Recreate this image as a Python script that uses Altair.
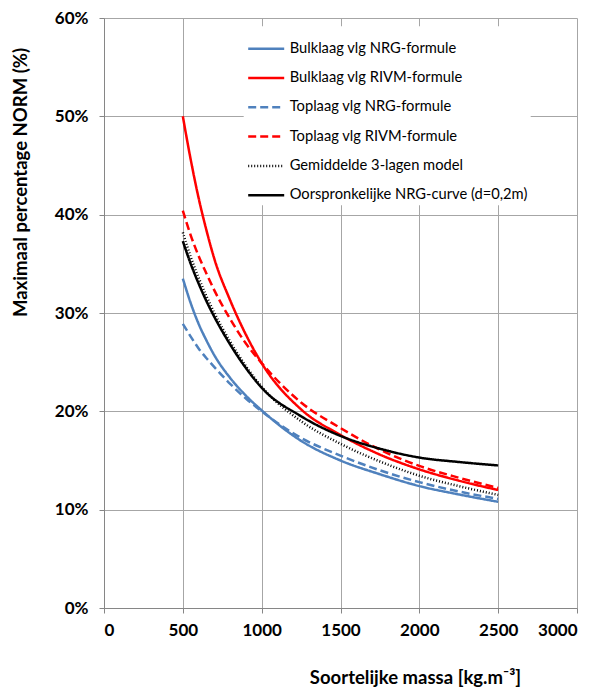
import altair as alt
import pandas as pd

# Soortelijke massa (kg/m3)
massa = [500, 550, 600, 650, 700, 800, 900, 1000, 1250, 1500, 1750, 2000, 2250, 2500]

# Maximaal percentage NORM (%)
bulk_nrg  = [33.5, 31.0, 28.9, 27.2, 25.7, 23.4, 21.6, 20.1, 17.0, 15.0, 13.6, 12.4, 11.55, 10.8]
bulk_rivm = [50.0, 45.6, 41.7, 38.4, 35.5, 31.3, 27.8, 24.9, 20.2, 17.6, 15.6, 14.1, 12.95, 12.0]
top_nrg   = [28.9, 27.6, 26.4, 25.4, 24.5, 22.8, 21.3, 20.0, 17.3, 15.5, 14.0, 12.8, 11.85, 11.1]
top_rivm  = [40.4, 37.9, 35.8, 34.0, 32.3, 29.4, 26.9, 24.9, 20.9, 18.3, 16.1, 14.45, 13.25, 12.2]
gemiddeld = [38.2, 35.7, 33.6, 31.7, 30.0, 27.1, 24.6, 22.5, 19.0, 16.7, 14.9, 13.45, 12.4, 11.5]
nrg_curve = [37.3, 35.0, 33.0, 31.2, 29.6, 26.8, 24.4, 22.4, 19.5, 17.5, 16.2, 15.3, 14.85, 14.5]

series_names = [
    "Bulklaag vlg NRG-formule",
    "Bulklaag vlg RIVM-formule",
    "Toplaag vlg NRG-formule",
    "Toplaag vlg RIVM-formule",
    "Gemiddelde 3-lagen model",
    "Oorspronkelijke NRG-curve (d=0,2m)",
]
series_values = [bulk_nrg, bulk_rivm, top_nrg, top_rivm, gemiddeld, nrg_curve]
series_colors = ["#4F81BD", "#FF0000", "#4F81BD", "#FF0000", "#000000", "#000000"]
series_dashes = [[1, 0], [1, 0], [8, 4], [8, 4], [1, 2], [1, 0]]
series_widths = [2.5, 2.5, 2.5, 2.5, 1.2, 2.5]

x_ticks = [0, 500, 1000, 1500, 2000, 2500, 3000]
y_ticks = [0, 10, 20, 30, 40, 50, 60]

rows = []
for name, vals in zip(series_names, series_values):
    for m, v in zip(massa, vals):
        rows.append({"massa": m, "pct": v, "serie": name})
df = pd.DataFrame(rows)

FONT = "Lato"

legend = alt.Legend(
    title=None,
    orient="none",
    legendX=139.7,
    legendY=8.2,
    padding=3,
    fillColor="white",
    symbolType="stroke",
    symbolSize=1296,
    labelFont=FONT,
    labelFontSize=14.7,
    labelColor="black",
    labelOffset=4,
    labelLimit=0,
    rowPadding=2.3,
)

chart = (
    alt.Chart(df)
    .mark_line(clip=True, interpolate="monotone")
    .encode(
        x=alt.X(
            "massa:Q",
            scale=alt.Scale(domain=[0, 3000], nice=False),
            axis=alt.Axis(
                values=x_ticks,
                format="d",
                title="Soortelijke massa [kg.m\u207b\u00b3]",
                titleX=311,
                titleY=69,
                titleBaseline="middle",
                labelPadding=9,
            ),
        ),
        y=alt.Y(
            "pct:Q",
            scale=alt.Scale(domain=[0, 60], nice=False),
            axis=alt.Axis(
                values=y_ticks,
                labelExpr="datum.value + '%'",
                title="Maximaal percentage NORM (%)",
                titleX=-84,
                titleY=164,
                titleBaseline="middle",
                labelPadding=11,
            ),
        ),
        color=alt.Color(
            "serie:N",
            scale=alt.Scale(domain=series_names, range=series_colors),
            legend=legend,
        ),
        strokeDash=alt.StrokeDash(
            "serie:N",
            scale=alt.Scale(domain=series_names, range=series_dashes),
            legend=legend,
        ),
        strokeWidth=alt.StrokeWidth(
            "serie:N",
            scale=alt.Scale(domain=series_names, range=series_widths),
            legend=legend,
        ),
        order=alt.Order("massa:Q"),
    )
    .properties(
        width=473,
        height=590,
        autosize=alt.AutoSizeParams(type="none"),
        padding={"left": 96, "top": 10, "right": 12, "bottom": 80},
    )
    .configure_view(stroke=None)
    .configure_axis(
        grid=True,
        gridColor="#A6A6A6",
        gridWidth=1,
        domainColor="#868686",
        tickColor="#868686",
        tickSize=5,
        labelFont=FONT,
        labelFontSize=17,
        labelFontWeight="bold",
        labelColor="black",
        titleFont=FONT,
        titleFontSize=18.5,
        titleFontWeight="bold",
        titleColor="black",
    )
)

chart.save("out.html", embed_options={"renderer": "svg", "actions": False})
